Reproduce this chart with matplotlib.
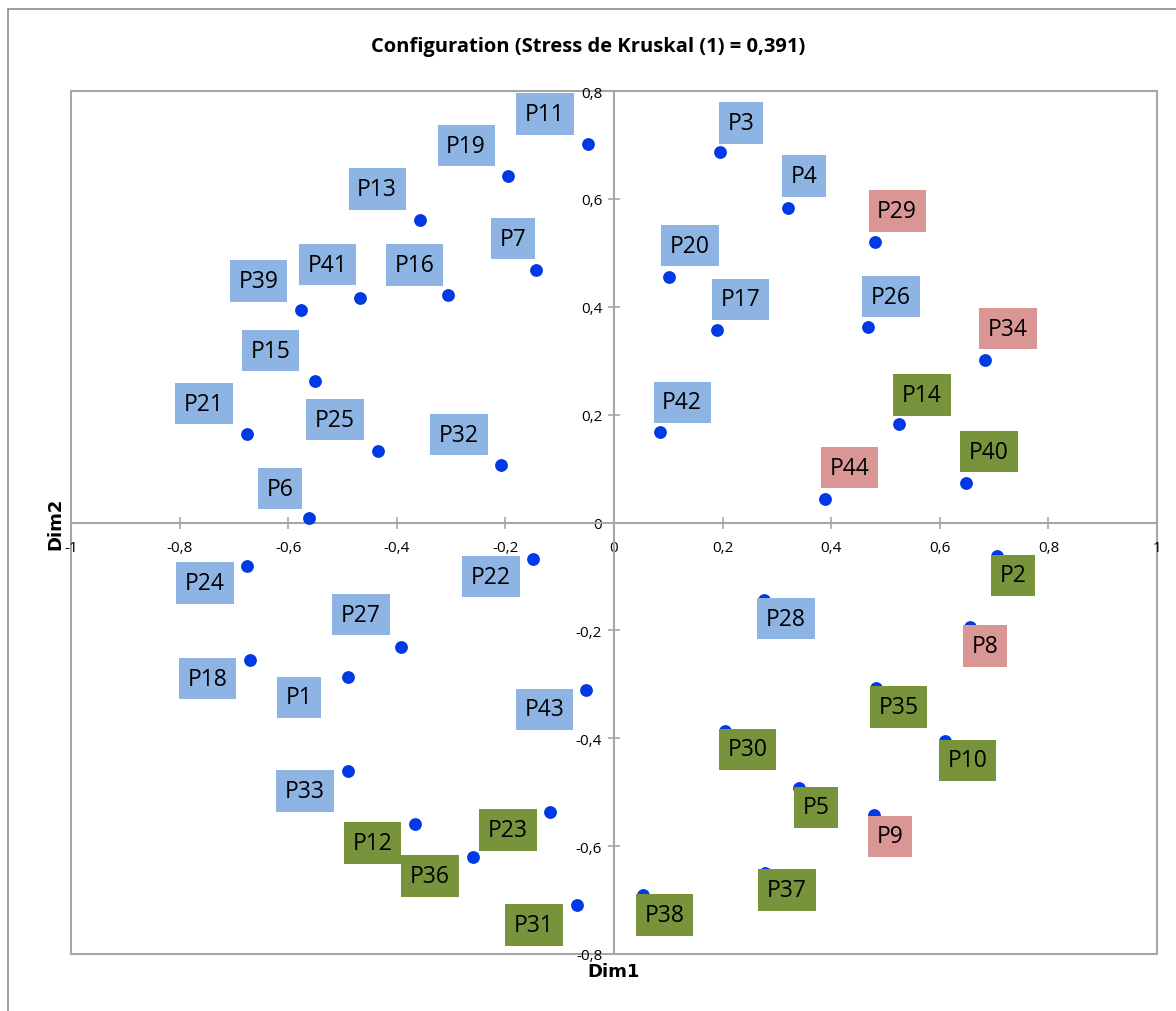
import matplotlib
matplotlib.use("Agg")
import matplotlib.pyplot as plt
from matplotlib.patches import Rectangle
from matplotlib.ticker import FixedLocator, FuncFormatter

# ---------------- data ----------------
names = ["P11", "P19", "P13", "P7", "P16", "P41", "P39", "P15", "P21", "P25", "P32", "P6",
         "P3", "P4", "P29", "P20", "P17", "P26", "P34", "P42", "P14", "P40", "P44",
         "P24", "P22", "P27", "P18", "P1", "P43", "P33", "P12", "P23", "P36", "P31",
         "P2", "P28", "P8", "P35", "P10", "P30", "P5", "P9", "P37", "P38"]
dim1 = [-0.048, -0.195, -0.357, -0.144, -0.306, -0.468, -0.576, -0.551, -0.676, -0.435, -0.208, -0.562,
        0.195, 0.321, 0.481, 0.101, 0.190, 0.468, 0.683, 0.085, 0.525, 0.648, 0.389,
        -0.676, -0.149, -0.392, -0.670, -0.490, -0.052, -0.490, -0.366, -0.118, -0.260, -0.068,
        0.705, 0.276, 0.656, 0.483, 0.610, 0.204, 0.341, 0.479, 0.278, 0.053]
dim2 = [0.702, 0.643, 0.561, 0.469, 0.422, 0.417, 0.394, 0.263, 0.165, 0.133, 0.107, 0.009,
        0.687, 0.583, 0.520, 0.456, 0.356, 0.363, 0.302, 0.167, 0.183, 0.074, 0.044,
        -0.081, -0.067, -0.230, -0.254, -0.287, -0.311, -0.461, -0.559, -0.537, -0.620, -0.709,
        -0.063, -0.143, -0.194, -0.307, -0.406, -0.387, -0.493, -0.543, -0.650, -0.691]
group = ["b", "b", "b", "b", "b", "b", "b", "b", "b", "b", "b", "b",
         "b", "b", "r", "b", "b", "b", "r", "b", "g", "g", "r",
         "b", "b", "b", "b", "b", "b", "b", "g", "g", "g", "g",
         "g", "b", "r", "g", "g", "g", "g", "r", "g", "g"]
# label box centre offsets (pixels, x right / y up) relative to each point
label_dx = [-43, -42, -43, -23, -33, -32, -43, -44, -43, -43, -42, -29,
            21, 16, 22, 21, 23, 23, 23, 22, 23, 23, 24,
            -42, -42, -40, -43, -49, -41, -43, -43, -42, -43, -43,
            16, 22, 15, 22, 22, 23, 17, 16, 22, 22]
label_dy = [30, 30, 31, 31, 30, 33, 29, 30, 30, 31, 30, 29,
            29, 32, 31, 31, 31, 30, 31, 30, 29, 31, 31,
            -17, -18, 32, -19, -20, -19, -20, -19, -18, -19, -20,
            -19, -19, -19, -19, -19, -18, -19, -21, -17, -20]
xticks = [-1, -0.8, -0.6, -0.4, -0.2, 0, 0.2, 0.4, 0.6, 0.8, 1]
yticks = [-0.8, -0.6, -0.4, -0.2, 0, 0.2, 0.4, 0.6, 0.8]
title = "Configuration (Stress de Kruskal (1) = 0,391)"

colors = {"b": "#8EB4E3", "r": "#D99694", "g": "#77933C"}

plt.rcParams["font.family"] = ["Open Sans", "DejaVu Sans"]

fig = plt.figure(figsize=(11.76, 10.12), dpi=100)
fig.patches.append(Rectangle((8 / 1176, -0.1), 1.2, 1 - 10 / 1012 + 0.1, transform=fig.transFigure,
                             fill=False, edgecolor="#8C8C8C", linewidth=1.2))
ax = fig.add_axes([71 / 1176, 1 - 955 / 1012, (1157 - 71) / 1176, (955 - 92) / 1012])
ax.set_xlim(-1, 1)
ax.set_ylim(-0.8, 0.8)

ax.spines["left"].set_position(("data", 0))
ax.spines["bottom"].set_position(("data", 0))
for s in ("left", "bottom"):
    ax.spines[s].set_color("#A6A6A6")
    ax.spines[s].set_linewidth(1.5)
ax.spines["top"].set_visible(False)
ax.spines["right"].set_visible(False)
ax.add_patch(Rectangle((0, 0), 1, 1, transform=ax.transAxes, fill=False,
                       edgecolor="#A6A6A6", linewidth=1.5, clip_on=False, zorder=0))

fmt = FuncFormatter(lambda v, p: ("%g" % round(v, 2)).replace(".", ","))
ax.xaxis.set_major_locator(FixedLocator(xticks))
ax.yaxis.set_major_locator(FixedLocator(yticks))
ax.xaxis.set_major_formatter(fmt)
ax.yaxis.set_major_formatter(fmt)
ax.tick_params(axis="both", direction="inout", length=9, width=1.2, color="#A6A6A6",
               labelsize=11, labelcolor="black")
ax.tick_params(axis="x", pad=8)
ax.tick_params(axis="y", pad=4)

ax.scatter(dim1, dim2, s=85, color="#0039E6", zorder=3, linewidths=0)

for n, x, y, g, dx, dy in zip(names, dim1, dim2, group, label_dx, label_dy):
    ax.annotate(n, (x, y), xytext=(dx, dy), textcoords="offset pixels",
                ha="center", va="center", fontsize=16.5, color="black", zorder=4,
                bbox=dict(boxstyle="square,pad=0.38", facecolor=colors[g], edgecolor="none"))

fig.text(0.5, 1 - 47 / 1012, title, ha="center", va="center", fontsize=14.5, fontweight="bold")
fig.text(614 / 1176, 1 - 972 / 1012, "Dim1", ha="center", va="center", fontsize=13, fontweight="bold",
         family=["DejaVu Sans"])
fig.text(55 / 1176, 1 - 524 / 1012, "Dim2", ha="center", va="center", fontsize=13, fontweight="bold",
         rotation=90, family=["DejaVu Sans"])

fig.savefig("out.png", dpi=100)
